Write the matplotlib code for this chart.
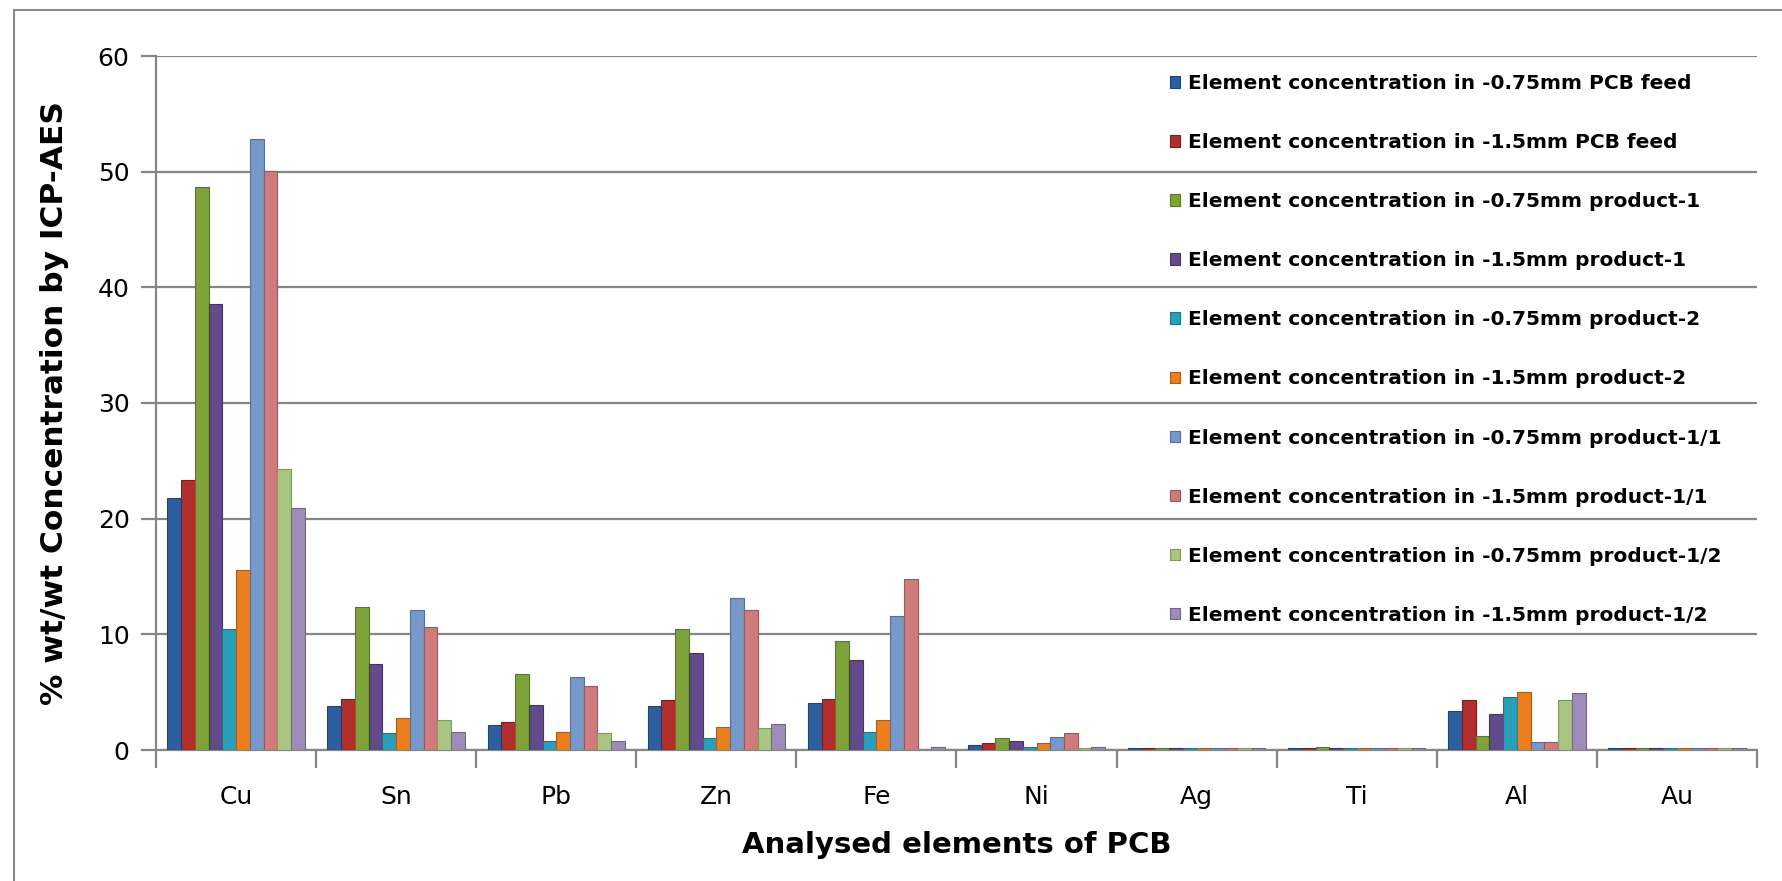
import matplotlib
matplotlib.use("Agg")
import matplotlib.pyplot as plt
import numpy as np
from matplotlib.patches import Rectangle

elements = ["Cu", "Sn", "Pb", "Zn", "Fe", "Ni", "Ag", "Ti", "Al", "Au"]

series_labels = [
    "Element concentration in -0.75mm PCB feed",
    "Element concentration in -1.5mm PCB feed",
    "Element concentration in -0.75mm product-1",
    "Element concentration in -1.5mm product-1",
    "Element concentration in -0.75mm product-2",
    "Element concentration in -1.5mm product-2",
    "Element concentration in -0.75mm product-1/1",
    "Element concentration in -1.5mm product-1/1",
    "Element concentration in -0.75mm product-1/2",
    "Element concentration in -1.5mm product-1/2",
]

feed_075 = [21.8, 3.8, 2.15, 3.8, 4.1, 0.45, 0.2, 0.2, 3.35, 0.2]
feed_15 = [23.3, 4.4, 2.4, 4.3, 4.4, 0.6, 0.2, 0.2, 4.3, 0.2]
prod1_075 = [48.7, 12.4, 6.6, 10.5, 9.45, 1.05, 0.2, 0.3, 1.2, 0.2]
prod1_15 = [38.6, 7.4, 3.85, 8.4, 7.75, 0.75, 0.2, 0.2, 3.1, 0.2]
prod2_075 = [10.5, 1.45, 0.75, 1.0, 1.55, 0.25, 0.2, 0.2, 4.55, 0.2]
prod2_15 = [15.6, 2.75, 1.55, 2.0, 2.6, 0.6, 0.2, 0.2, 5.05, 0.2]
prod11_075 = [52.8, 12.1, 6.3, 13.15, 11.6, 1.1, 0.2, 0.2, 0.7, 0.2]
prod11_15 = [50.1, 10.65, 5.5, 12.1, 14.8, 1.45, 0.2, 0.2, 0.7, 0.2]
prod12_075 = [24.3, 2.6, 1.45, 1.9, 0.1, 0.2, 0.2, 0.2, 4.3, 0.2]
prod12_15 = [20.9, 1.55, 0.75, 2.25, 0.3, 0.3, 0.2, 0.2, 4.9, 0.2]

series_values = [feed_075, feed_15, prod1_075, prod1_15, prod2_075,
                 prod2_15, prod11_075, prod11_15, prod12_075, prod12_15]

colors = ["#2D5F9E", "#B02E2E", "#7EA33A", "#634B8B", "#2A9FB8",
          "#EC7E1E", "#7898C8", "#CD7C7B", "#A8C682", "#9D8BB8"]
edges = ["#1F4475", "#7E1F1F", "#5A7628", "#45346A", "#1D7488",
         "#B05C12", "#546F9C", "#9A5958", "#7E9A5C", "#73648C"]

W, H = 1783, 881
fig = plt.figure(figsize=(W / 100, H / 100), dpi=100)
fig.patch.set_facecolor("white")

# outer chart frame
fig.patches.append(Rectangle((14 / W, -0.1), 1.2, 1 - 10 / H + 0.1,
                             transform=fig.transFigure, fill=False,
                             edgecolor="#8A8A8A", linewidth=1.5))

left, right = 156 / W, 1757 / W
bottom, top = 1 - 750 / H, 1 - 56 / H
ax = fig.add_axes([left, bottom, right - left, top - bottom])

x = np.arange(len(elements))
w = 0.0858
for i, (vals, c, ec, lab) in enumerate(zip(series_values, colors, edges, series_labels)):
    pos = x + (i - 4.5) * w
    ax.bar(pos, vals, width=w, color=c, edgecolor=ec, linewidth=0.8,
           label=lab, zorder=3)

ax.set_xlim(-0.5, len(elements) - 0.5)
ax.set_ylim(0, 60)
ax.set_yticks(np.arange(0, 61, 10))
ax.yaxis.grid(True, color="#868686", linewidth=1.6, zorder=0)
ax.set_axisbelow(True)

for s in ["top", "right"]:
    ax.spines[s].set_visible(False)
for s in ["left", "bottom"]:
    ax.spines[s].set_color("#868686")
    ax.spines[s].set_linewidth(1.6)

ax.set_xticks(x)
ax.set_xticklabels(elements, fontsize=18)
ax.set_xticks(np.arange(-0.5, len(elements), 1), minor=True)
ax.tick_params(axis="x", which="major", length=0, pad=25)
ax.tick_params(axis="x", which="minor", length=13, width=1.6, color="#868686")
ax.tick_params(axis="y", length=11, width=1.6, color="#868686", pad=8,
               labelsize=18)

ax.set_ylabel("% wt/wt Concentration by ICP-AES", fontsize=22.5,
              fontweight="bold", labelpad=21)
ax.set_xlabel("Analysed elements of PCB", fontsize=21, fontweight="bold",
              labelpad=16)

leg = ax.legend(loc="upper left", bbox_to_anchor=((1162 / W - left) / (right - left),
                                                   (1 - 66 / H - bottom) / (top - bottom)),
                frameon=False, fontsize=14.5, handlelength=0.5, handleheight=0.5,
                handletextpad=0.4, labelspacing=1.99, borderaxespad=0)
for t in leg.get_texts():
    t.set_fontweight("bold")

fig.savefig("out.png", dpi=100, facecolor="white")
